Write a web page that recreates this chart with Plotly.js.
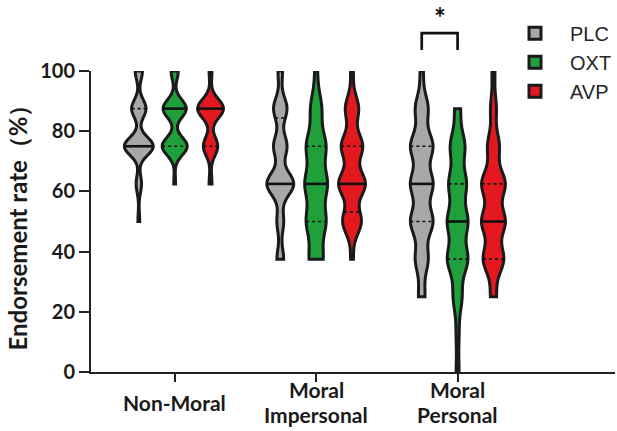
<!DOCTYPE html>
<html><head><meta charset="utf-8">
<script src="https://cdn.plot.ly/plotly-3.0.1.min.js"></script>
<style>html,body{margin:0;padding:0;background:#fff}#chart{width:617px;height:431px}</style>
</head><body><div id="chart"></div>
<script>
// ---------------- data ----------------
const categories = ['Non-Moral', 'Moral Impersonal', 'Moral Personal'];
const categoryLines = [['Non-Moral'], ['Moral', 'Impersonal'], ['Moral', 'Personal']];
const conditions = ['PLC', 'OXT', 'AVP'];
const levels = [0, 12.5, 25, 37.5, 50, 62.5, 75, 87.5, 100];   // endorsement rate (%)
// number of participants at each level, one row per category
const countsPLC = [
  [0, 0, 0, 0, 1, 3, 16, 8, 4],
  [0, 0, 0, 3, 3, 12, 6, 6, 2],
  [0, 0, 2, 4, 7, 7, 7, 4, 1]
];
const countsOXT = [
  [0, 0, 0, 0, 0, 1, 14, 13, 4],
  [0, 0, 0, 5, 7, 8, 7, 4, 1],
  [1, 1, 3, 7, 7, 6, 5, 2, 0]
];
const countsAVP = [
  [0, 0, 0, 0, 0, 2, 10, 18, 2],
  [0, 0, 0, 1, 7, 10, 8, 5, 1],
  [0, 0, 2, 7, 8, 8, 4, 2, 1]
];
const yTicks = [0, 20, 40, 60, 80, 100];
const sigLabel = '*';

// ---------------- style ----------------
const fills = ['#a8a8ab', '#1fa03b', '#e4191f'];
const outline = '#1a1a1a';
const outlineWidth = 3;
const groupOffset = 0.2535;
const maxWidthPx = [[29, 25, 26], [27, 23, 27], [23, 21, 24]];
const bandwidths = [[3, 3, 3.2], [3.8, 5, 4.2], [4.5, 4.8, 4.5]];
const pxPerCat = 142;
const xRange = [-0.5915, -0.5915 + 526 / pxPerCat];

const allCounts = [countsPLC, countsOXT, countsAVP];

function expand(counts) {
  const v = [];
  counts.forEach((c, i) => { for (let j = 0; j < c; j++) v.push(levels[i]); });
  return v;
}
function quantile(sorted, p) {   // (n+1)p method
  const n = sorted.length;
  let pos = (n + 1) * p;
  if (pos <= 1) return sorted[0];
  if (pos >= n) return sorted[n - 1];
  const lo = Math.floor(pos), f = pos - lo;
  return sorted[lo - 1] + f * (sorted[lo] - sorted[lo - 1]);
}
function kde(vals, bw) {
  const fac = 1 / (vals.length * bw * Math.sqrt(2 * Math.PI));
  return x => { let s = 0; for (const v of vals) { const u = (x - v) / bw; s += Math.exp(-0.5 * u * u); } return fac * s; };
}

const violins = [], lines = [];
conditions.forEach((cond, c) => {
  categories.forEach((cat, k) => {
    const vals = expand(allCounts[c][k]).sort((a, b) => a - b);
    const pos = k + (c - 1) * groupOffset;
    const bw = bandwidths[k][c];
    const w = maxWidthPx[k][c] / pxPerCat;
    violins.push({
      type: 'violin', name: cond, x: vals.map(() => pos), y: vals,
      showlegend: k === 0, fillcolor: fills[c], line: {color: outline, width: outlineWidth},
      points: false, box: {visible: false}, meanline: {visible: false},
      spanmode: 'hard', bandwidth: bw, width: w, scalemode: 'width',
      scalegroup: cond + k, hoverinfo: 'skip'
    });
    // replicate density grid to size the median / quartile lines
    const f = kde(vals, bw);
    const lo = vals[0], hi = vals[vals.length - 1];
    const dist = hi - lo, n = Math.ceil(dist / (bw / 3)), step = dist / n;
    let maxK = 0;
    for (let t = lo; t < hi + step / 2; t += step) maxK = Math.max(maxK, f(t));
    const q1 = quantile(vals, 0.25), med = quantile(vals, 0.5), q3 = quantile(vals, 0.75);
    const seg = (q, dash, lw) => {
      const hw = (w / 2) * f(q) / maxK;
      lines.push({type: 'scatter', mode: 'lines', x: [pos - hw, pos + hw], y: [q, q],
        line: {color: '#111', width: lw, dash: dash}, showlegend: false, hoverinfo: 'skip'});
    };
    if (q1 !== med) seg(q1, '3px,3px', 1.6);
    if (q3 !== med) seg(q3, '3px,3px', 1.6);
    seg(med, 'solid', 2.6);
  });
});

const toPaperX = x => (x - xRange[0]) / (xRange[1] - xRange[0]);
const brL = toPaperX(2 - groupOffset), brR = toPaperX(2);
const annotations = [];
categoryLines.forEach((ls, k) => {
  const n = ls.length;
  ls.forEach((t, i) => {
    annotations.push({xref: 'x', yref: 'paper', x: k, y: 0, text: t, showarrow: false,
      xanchor: 'center', yanchor: 'middle', yshift: -30 - (i - (n - 1) / 2) * 25.5,
      borderpad: 0,
      font: {family: 'Lato', size: 21, weight: 'bold', color: '#1a1a1a'}});
  });
});
annotations.push({xref: 'paper', yref: 'paper', x: (brL + brR) / 2, y: 1.178, text: sigLabel,
  showarrow: false, xanchor: 'center', yanchor: 'middle',
  font: {family: 'Lato', size: 28, weight: 'bold', color: '#111'}});

const layout = {
  width: 617, height: 431,
  margin: {l: 91, r: 0, t: 71, b: 59},
  paper_bgcolor: '#fff', plot_bgcolor: '#fff',
  violinmode: 'overlay',
  showlegend: true,
  legend: {x: 0.781, y: 1.19, xanchor: 'left', yanchor: 'top', itemwidth: 60,
    font: {family: 'Liberation Sans', size: 20, color: '#262626'}, bgcolor: 'rgba(0,0,0,0)'},
  xaxis: {range: xRange, tickvals: [0, 1, 2], showticklabels: false, ticks: 'outside',
    ticklen: 8, tickwidth: 2, tickcolor: '#222', showline: true, linewidth: 2, linecolor: '#222',
    showgrid: false, zeroline: false, fixedrange: true},
  yaxis: {range: [0, 100], tickvals: yTicks, ticks: 'outside', ticklen: 10, tickwidth: 2,
    tickcolor: '#222', showline: true, linewidth: 2, linecolor: '#222', showgrid: false,
    zeroline: false, tickfont: {family: 'Lato', size: 20, weight: 'bold', color: '#1a1a1a'},
    title: {text: 'Endorsement rate（%）', standoff: 6,
      font: {family: 'Lato', size: 24, weight: 'bold', color: '#1a1a1a'}}},
  shapes: [{type: 'path', xref: 'paper', yref: 'paper',
    path: `M${brL},1.07 L${brL},1.126 L${brR},1.126 L${brR},1.07`,
    line: {color: '#111', width: 2.7}}],
  annotations: annotations
};
Plotly.newPlot('chart', violins.concat(lines), layout, {displayModeBar: false, staticPlot: true});
</script></body></html>
